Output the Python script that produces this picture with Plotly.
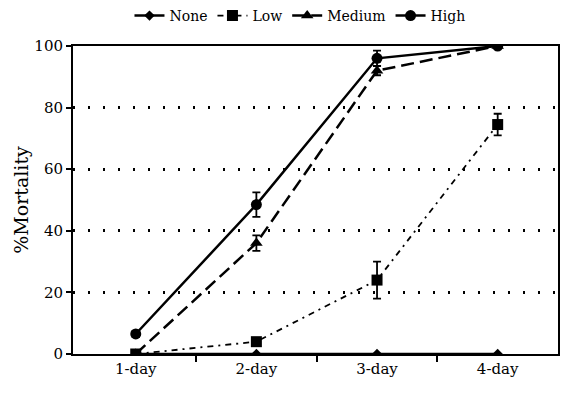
import plotly.graph_objects as go

days = ["1-day", "2-day", "3-day", "4-day"]
none_vals = [0, 0, 0, 0]
low_vals = [0, 4, 24, 74.5]
low_err = [0, 1, 6, 3.5]
medium_vals = [0, 36, 92, 100]
medium_err = [0, 2.5, 1.5, 0]
high_vals = [6.5, 48.5, 96, 100]
high_err = [1, 4, 2.5, 0]

x = list(range(len(days)))
font = "DejaVu Serif"

fig = go.Figure()

def add(name, y, err, symbol, dash, width, size):
    fig.add_trace(go.Scatter(
        x=x, y=y, name=name, mode="lines+markers",
        line=dict(color="black", width=width, dash=dash),
        marker=dict(symbol=symbol, size=size, color="black"),
        error_y=dict(type="data", array=err, visible=True, color="black",
                     thickness=1.8, width=4),
    ))

add("None", none_vals, None, "diamond", "solid", 2.5, 8)
add("Low", low_vals, low_err, "square", "6px,5px,2px,5px", 1.8, 11)
add("Medium", medium_vals, medium_err, "triangle-up", "13px,6px", 2.5, 11)
add("High", high_vals, high_err, "circle", "solid", 2.5, 11)

fig.update_layout(
    width=566, height=393,
    margin=dict(l=73, r=8, t=46, b=39, autoexpand=False),
    paper_bgcolor="white", plot_bgcolor="white",
    font=dict(family=font, size=15, color="black"),
    showlegend=True,
    legend=dict(orientation="h", x=0.53, xanchor="center", xref="container",
                y=1.0, yanchor="top", yref="container",
                font=dict(size=14), itemwidth=30, tracegroupgap=0,
                bgcolor="rgba(0,0,0,0)"),
    xaxis=dict(
        range=[-0.52, 3.5], tickmode="array", tickvals=x, ticktext=days,
        showgrid=False, zeroline=False, showline=True, linecolor="black",
        linewidth=2, mirror=True, ticks="", tickfont=dict(size=15),
        minor=dict(tickmode="array", tickvals=[0.5, 1.5, 2.5], ticks="outside",
                   ticklen=6, tickcolor="black", tickwidth=1.5),
    ),
    yaxis=dict(
        range=[0, 100], tickvals=[0, 20, 40, 60, 80, 100],
        showgrid=True, gridcolor="black", griddash="2px,13px", gridwidth=2.5,
        zeroline=False, showline=True, linecolor="black", linewidth=2,
        mirror=True, ticks="outside", ticklen=5, tickcolor="black",
        tickwidth=1.5, tickfont=dict(size=15),
        title=dict(text="%Mortality", font=dict(size=19), standoff=1),
    ),
)

fig.write_html("out.html")
